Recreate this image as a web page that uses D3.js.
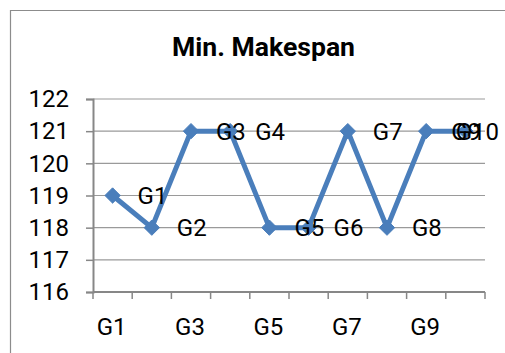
<!DOCTYPE html>
<html>
<head>
<meta charset="utf-8">
<script src="https://cdn.jsdelivr.net/npm/d3@7"></script>
<style>
  html, body { margin: 0; padding: 0; background: #fff; }
  svg { display: block; }
</style>
</head>
<body>
<svg id="chart" width="505" height="353"></svg>
<script>
// Minimum makespan per group
const categories = ["G1", "G2", "G3", "G4", "G5", "G6", "G7", "G8", "G9", "G10"];
const makespan = [119, 118, 121, 121, 118, 118, 121, 118, 121, 121];
const yTicks = [116, 117, 118, 119, 120, 121, 122];
const xTickLabels = ["G1", "G3", "G5", "G7", "G9"];
const title = "Min. Makespan";

const W = 505, H = 353;
const plot = { left: 93, right: 485, top: 99, bottom: 292 };
const chartRight = 499;
const FONT = "Roboto, 'Liberation Sans', Arial, sans-serif";

const svg = d3.select("#chart");

// Outer chart frame (only left and top edges fall inside the view)
svg.append("path")
  .attr("d", `M10.5,${H} V10.5 H${W}`)
  .attr("fill", "none")
  .attr("stroke", "#8c8c8c")
  .attr("stroke-width", 1.2);

const titleText = svg.append("text")
  .attr("x", 263.5).attr("y", 56)
  .attr("text-anchor", "middle")
  .attr("font-family", FONT)
  .attr("font-weight", "bold")
  .attr("font-size", 25)
  .attr("fill", "#000")
  .text(title);
titleText.attr("textLength", 183).attr("lengthAdjust", "spacingAndGlyphs");

const x = d3.scaleBand().domain(categories).range([plot.left, plot.right]);
const y = d3.scaleLinear().domain([116, 122]).range([plot.bottom, plot.top]);

// Horizontal gridlines
svg.append("g")
  .selectAll("line")
  .data(yTicks.filter(t => t !== 116))
  .join("line")
  .attr("x1", plot.left).attr("x2", plot.right)
  .attr("y1", d => y(d)).attr("y2", d => y(d))
  .attr("stroke", "#9a9a9a")
  .attr("stroke-width", 1.2);

// Y axis
const yAxis = svg.append("g")
  .attr("transform", `translate(${plot.left},0)`)
  .call(d3.axisLeft(y).tickValues(yTicks).tickSize(7).tickPadding(17).tickFormat(d3.format("d")));
yAxis.select(".domain").attr("stroke", "#878787").attr("stroke-width", 2);
yAxis.selectAll(".tick line").attr("stroke", "#878787").attr("stroke-width", 1.5);
yAxis.selectAll(".tick text")
  .attr("font-family", FONT).attr("font-size", 24).attr("fill", "#000");

// X axis: ticks on band boundaries, labels on every other category
const xAxisG = svg.append("g").attr("transform", `translate(0,${plot.bottom})`);
xAxisG.append("line")
  .attr("x1", plot.left).attr("x2", plot.right)
  .attr("stroke", "#878787").attr("stroke-width", 2);
const boundaries = categories.map(c => x(c)).concat([x(categories[categories.length - 1]) + x.bandwidth()]);
xAxisG.selectAll("line.tick")
  .data(boundaries)
  .join("line")
  .attr("class", "tick")
  .attr("x1", d => d).attr("x2", d => d)
  .attr("y1", 0).attr("y2", 7)
  .attr("stroke", "#878787").attr("stroke-width", 1.5);
xAxisG.selectAll("text")
  .data(xTickLabels)
  .join("text")
  .attr("x", d => x(d) + x.bandwidth() / 2 - 1)
  .attr("y", 43)
  .attr("text-anchor", "middle")
  .attr("font-family", FONT).attr("font-size", 24).attr("fill", "#000")
  .text(d => d);

const points = categories.map((c, i) => ({ cat: c, value: makespan[i] }));
const cx = d => x(d.cat) + x.bandwidth() / 2;

// Series line
svg.append("path")
  .datum(points)
  .attr("fill", "none")
  .attr("stroke", "#4a7ebb")
  .attr("stroke-width", 5)
  .attr("stroke-linejoin", "round")
  .attr("d", d3.line().x(cx).y(d => y(d.value)));

// Diamond markers
svg.append("g")
  .selectAll("path")
  .data(points)
  .join("path")
  .attr("transform", d => `translate(${cx(d)},${y(d.value)})`)
  .attr("d", d3.symbol(d3.symbolDiamond2, 150))
  .attr("fill", "#4a7ebb")
  .attr("stroke", "#4a7ebb")
  .attr("stroke-width", 1);

// Data labels to the right of each marker, kept inside the chart frame
const labels = svg.append("g")
  .selectAll("text")
  .data(points)
  .join("text")
  .attr("y", d => y(d.value))
  .attr("dy", "0.36em")
  .attr("font-family", FONT).attr("font-size", 24).attr("fill", "#000")
  .text(d => d.cat);
labels.each(function (d) {
  const w = this.getComputedTextLength();
  d3.select(this).attr("x", Math.min(cx(d) + 25, chartRight - w));
});
</script>
</body>
</html>
